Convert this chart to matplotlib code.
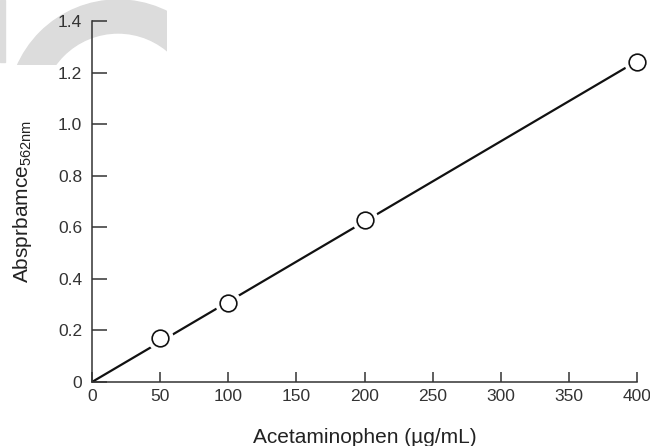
import numpy as np
import matplotlib.pyplot as plt
from matplotlib.patches import Wedge, Rectangle

plt.rcParams['font.family'] = ['Liberation Sans', 'DejaVu Sans']
plt.rcParams['mathtext.default'] = 'regular'

# concentration (ug/mL) and measured absorbance
conc = [50, 100, 200, 400]
absorb = [0.171, 0.306, 0.628, 1.241]
x_ticks = [0, 50, 100, 150, 200, 250, 300, 350, 400]
y_ticks = [0, 0.2, 0.4, 0.6, 0.8, 1.0, 1.2, 1.4]
y_labels = ['0', '0.2', '0.4', '0.6', '0.8', '1.0', '1.2', '1.4']

# least-squares line through the origin
c = np.array(conc, dtype=float)
a = np.array(absorb)
slope = np.sum(c * a) / np.sum(c * c)
fit_x = np.array([0, 400])
fit_y = slope * fit_x

fig = plt.figure(figsize=(6.5, 4.46), dpi=100)

# faint watermark in the upper left corner (pixel coords, origin bottom-left)
wm = '#dcdcdc'
fig.patches.append(Rectangle((0, 446 - 62), 5, 62, transform=None,
                             color=wm, zorder=-5))
clip = Rectangle((0, 446 - 65), 167, 65, transform=None)
w = Wedge((118, 446 - 110), 110, 0, 180, width=33, transform=None,
          color=wm, zorder=-5)
w.set_clip_path(clip)
fig.patches.append(w)

ax = fig.add_axes([92 / 650, 64 / 446, 545 / 650, 361 / 446])
ax.patch.set_alpha(0)

ax.plot(fit_x, fit_y, color='#111111', lw=1.6, zorder=2)
# white halo so the line stops short of each circle
ax.plot(conc, absorb, 'o', ms=12, mfc='white', mec='white', mew=7, zorder=3,
        clip_on=False)
ax.plot(conc, absorb, 'o', ms=12, mfc='white', mec='#111111', mew=1.2, zorder=4,
        clip_on=False)

ax.set_xlim(0, 400)
ax.set_ylim(0, 1.4)
ax.set_xticks(x_ticks)
ax.set_yticks(y_ticks)
ax.set_yticklabels(y_labels)
for s in ['top', 'right']:
    ax.spines[s].set_visible(False)
for s in ['left', 'bottom']:
    ax.spines[s].set_color('#333333')
    ax.spines[s].set_linewidth(1.1)
ax.tick_params(axis='x', direction='in', length=7.5, width=1.1, color='#333333',
               labelsize=12.5, labelcolor='#333333', pad=5)
ax.tick_params(axis='y', direction='in', length=11, width=1.1, color='#333333',
               labelsize=12.5, labelcolor='#333333', pad=7)

ax.set_xlabel('Acetaminophen (\u00b5g/mL)', fontsize=15, color='#222222', labelpad=17)
ax.set_ylabel('Absprbamce$_{562nm}$', fontsize=15, color='#222222', labelpad=17)

fig.savefig('out.png', dpi=100)
